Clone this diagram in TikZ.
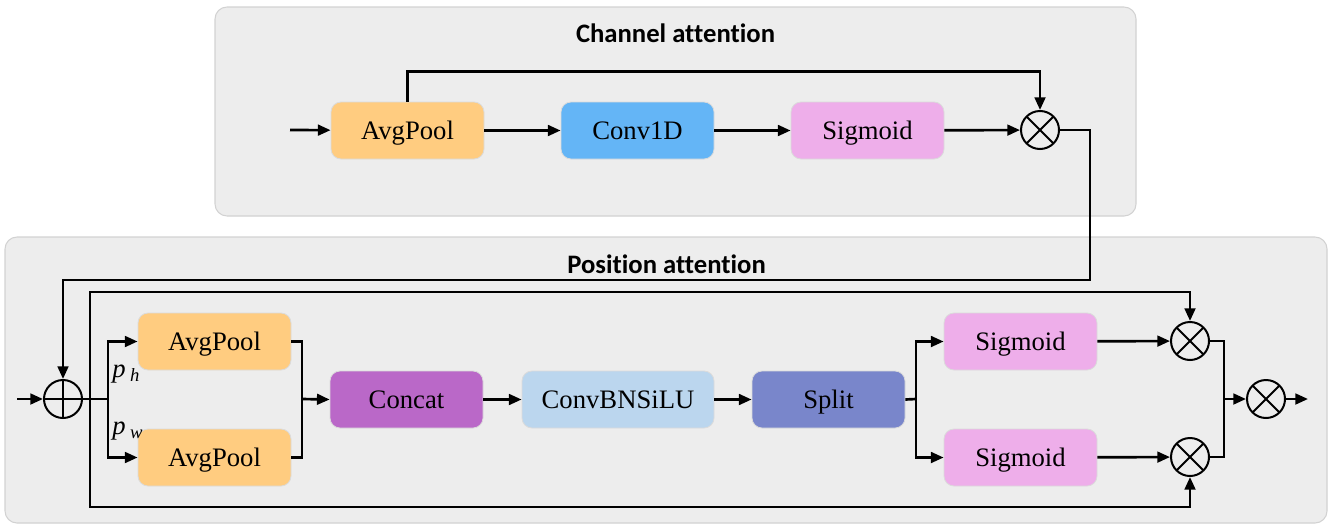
\documentclass[tikz,border=0pt]{standalone}
\usepackage{fontspec}
\setmainfont{Liberation Serif}
\newfontfamily\titlefont[Ligatures={NoCommon}]{Carlito}
\usetikzlibrary{arrows.meta}

\definecolor{panelfill}{HTML}{EDEDED}
\definecolor{panelline}{HTML}{D2D2D2}
\definecolor{poolc}{HTML}{FFCC80}
\definecolor{convc}{HTML}{64B5F6}
\definecolor{sigc}{HTML}{EEAEEA}
\definecolor{catc}{HTML}{BA68C8}
\definecolor{cbsc}{HTML}{BBD6EE}
\definecolor{splitc}{HTML}{7986CB}

\tikzset{
  panel/.style={fill=panelfill, draw=panelline, line width=0.8pt, rounded corners=9pt},
  blk/.style={rounded corners=7.5pt, draw=black!14, line width=0.6pt,
    minimum width=114.75pt, minimum height=42.75pt, inner sep=0pt,
    text height=13.2pt, text depth=0pt,
    font=\fontsize{20}{24}\selectfont},
  wire/.style={line width=2pt},
  flow/.style={wire, -{Triangle[length=9.5pt,width=8pt]}},
  ttl/.style={font=\titlefont\bfseries\fontsize{20}{24}\selectfont},
  lbl/.style={anchor=west, inner sep=0pt, font=\fontsize{20}{24}\selectfont},
  opnode/.style={circle, draw, line width=1.5pt, minimum size=28.5pt, inner sep=0pt},
  mulop/.style={opnode, path picture={\draw[line width=1.5pt]
      (path picture bounding box.north west) -- (path picture bounding box.south east)
      (path picture bounding box.north east) -- (path picture bounding box.south west);}},
  addop/.style={opnode, path picture={\draw[line width=1.5pt]
      (path picture bounding box.north) -- (path picture bounding box.south)
      (path picture bounding box.west) -- (path picture bounding box.east);}},
}

\begin{document}
\begin{tikzpicture}[x=0.75pt, y=-0.75pt]
\useasboundingbox (0,0) rectangle (1333,525);

% panels
\path[panel] (215,7) rectangle (1136,216);
\path[panel] (5,237) rectangle (1327,523);
\node[ttl] (ttlc) at (675.5,33) {Channel attention};
\node[ttl] (ttlp) at (666.5,264) {Position attention};

% channel attention
\coordinate (cin) at (290,130);
\node[blk, fill=poolc] (cpool) at (407.5,130.5) {AvgPool};
\node[blk, fill=convc] (conv) at (637.5,130.5) {Conv1D};
\node[blk, fill=sigc] (csig) at (867.5,130.5) {Sigmoid};
\node[mulop] (cmul) at (1040,130) {};

\draw[flow] (cin) -- (cpool);
\draw[flow] (cpool) -- (conv);
\draw[flow] (conv) -- (csig);
\draw[flow] (csig) -- (cmul);
\draw[flow] (cpool.north) -- ++(0,-30) -| (cmul.north);

% position attention
\coordinate (pin) at (17,399);
\node[addop] (add) at (63,399) {};
\draw[flow] (cmul.east) -| (1090,280) -| (add.north);
\draw[flow] (pin) -- (add);

\node[blk, fill=poolc] (hpool) at (214.5,341.5) {AvgPool};
\node[blk, fill=poolc] (wpool) at (214.5,457.5) {AvgPool};
\node[blk, fill=catc] (cat) at (406.5,399.5) {Concat};
\node[blk, fill=cbsc, minimum width=144pt] (cbs) at (618,399.5) {ConvBNSiLU};
\node[blk, fill=splitc] (split) at (828.5,399.5) {Split};
\node[blk, fill=sigc] (hsig) at (1020.5,341.5) {Sigmoid};
\node[blk, fill=sigc] (wsig) at (1020.5,457.5) {Sigmoid};
\node[mulop] (hmul) at (1190,341) {};
\node[mulop] (wmul) at (1190,457) {};
\node[mulop] (omul) at (1266,399) {};
\coordinate (pout) at (1308,399);

\node[lbl] (ph) at (112,374) {\textit{p}\,\textsubscript{\textit{h}}};
\node[lbl] (pw) at (112,431) {\textit{p}\,\textsubscript{\textit{w}}};

\coordinate (br) at (108,399);
\coordinate (sk) at (90,399);
\draw[wire] (add.east) -- (br);
\draw[flow] (br) |- (hpool.west);
\draw[flow] (br) |- (wpool.west);

\coordinate (mj) at (302,399);
\draw[wire] (hpool.east) -| (mj);
\draw[wire] (wpool.east) -| (mj);
\draw[flow] (mj) -- (cat.west);
\draw[flow] (cat) -- (cbs);
\draw[flow] (cbs) -- (split);

\coordinate (sj) at (916,399);
\draw[wire] (split.east) -- (sj);
\draw[flow] (sj) |- (hsig.west);
\draw[flow] (sj) |- (wsig.west);
\draw[flow] (hsig) -- (hmul);
\draw[flow] (wsig) -- (wmul);

\coordinate (oj) at (1224,399);
\draw[wire] (hmul.east) -| (oj);
\draw[wire] (wmul.east) -| (oj);
\draw[flow] (oj) -- (omul);
\draw[flow] (omul) -- (pout);

% skip paths around the branches
\draw[flow] (sk) -- (90,292) -| (hmul.north);
\draw[flow] (sk) -- (90,507) -| (wmul.south);
\end{tikzpicture}
\end{document}
